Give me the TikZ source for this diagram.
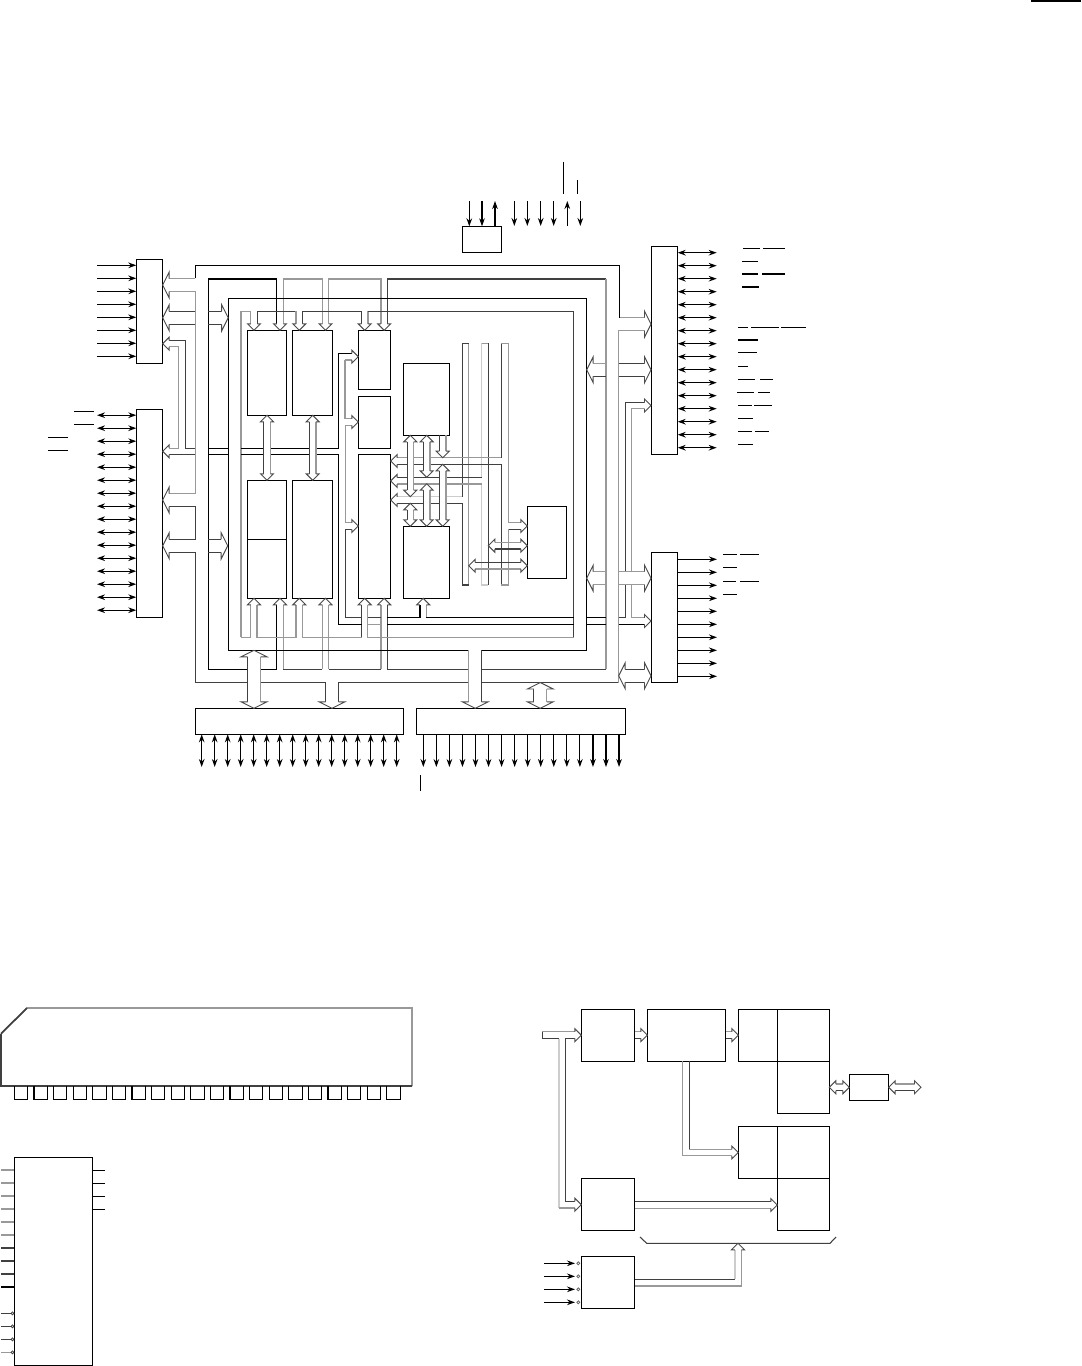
\documentclass[tikz,border=0pt]{standalone}
\usepackage{xcolor}
\usepackage{tikz}
\usetikzlibrary{arrows.meta,fit}

\begin{document}
\begin{tikzpicture}[
    x=0.75pt,y=-0.75pt,
    box/.style={draw,inner sep=0pt,outer sep=0pt,line width=1pt},
    pin/.style={draw,line width=0.85pt},
    wire/.style={draw,black,line width=0.8pt},
    dk/.style={draw,black!75,line width=0.8pt},
    gr/.style={draw,black!40,line width=0.9pt},
    lt/.style={draw,black!20,line width=0.9pt},
    head/.style={draw=black!70,fill=white,line width=0.7pt},
    >={Stealth[length=6pt,width=4.2pt]},
]
    \useasboundingbox (0,0) rectangle (1081,1366);

    % boxes
    \foreach \n/\xa/\ya/\xb/\yb in {
        ltbox/136.3/259.3/162.7/363.3, lwbox/136.3/409.3/162.7/617.3,
        topbox/462.3/226.3/501.7/252.3, rtbox/651.3/246.3/677.7/454.3, rwbox/651.3/552.3/677.7/682.3,
        blbox/195.3/708.3/403.3/734.3, brbox/416.3/708.3/625.7/734.3,
        aa/247.3/330.3/286.3/415.3, ab/292.3/330.3/332.3/415.3,
        ba/247.3/480.3/286.3/539.3, bc/247.3/539.3/286.3/598.3, bb/292.3/480.3/332.3/598.3,
        ca/358.3/330.3/390.3/389.3, cb/358.3/396.3/390.3/448.3, cc/358.3/454.3/390.3/598.3,
        da/403.3/363.3/449.7/435.3, db/403.3/526.3/449.7/598.3, ee/527.3/506.3/566.7/578.3,
        chip/14.3/1157.3/92.3/1365.3,
        fa/581.3/1009.3/634.7/1061.3, fb/647.3/1009.3/725.7/1061.3, fc/738.3/1009.3/777.3/1061.3,
        fd/777.3/1009.3/829.3/1061.3, fe/777.3/1061.3/829.3/1113.3, ff/849.3/1074.3/888.7/1100.3,
        fg/738.3/1126.3/777.3/1178.3, fh/777.3/1126.3/829.3/1178.3, fi/777.3/1178.3/829.3/1230.3,
        fj/581.3/1178.3/634.7/1230.3, fk/581.3/1256.3/634.7/1308.3%
    }{
        \node[box,fit={(\xa,\ya) (\xb,\yb)}] (\n) {};
    }

    % pins
    \foreach \i in {0,...,7}{
        \coordinate (lt\i) at (97,265.3+13*\i);
        \draw[pin,->] (lt\i) -- (ltbox.west |- lt\i);
    }
    \foreach \i in {0,...,15}{
        \coordinate (lw\i) at (97,415.2+13*\i);
        \draw[pin,<->] (lw\i) -- (lwbox.west |- lw\i);
        \coordinate (rt\i) at (716.7,252.7+13*\i);
        \draw[pin,<->] (rtbox.east |- rt\i) -- (rt\i);
        \coordinate (bl\i) at (201.7+13*\i,767);
        \draw[pin,<->] (blbox.south -| bl\i) -- (bl\i);
        \coordinate (br\i) at (423.3+13.05*\i,767);
        \draw[pin,->] (brbox.south -| br\i) -- (br\i);
    }
    \foreach \i in {0,...,9}{
        \coordinate (rw\i) at (717,559.3+13*\i);
        \draw[pin,->] (rwbox.east |- rw\i) -- (rw\i);
    }
    \foreach \n/\x in {a/469.3,b/482}{
        \coordinate (tp\n) at (\x,201);
        \draw[pin,->] (tp\n) -- (topbox.north -| tp\n);
    }
    \coordinate (tpc) at (495,201);
    \draw[pin,<-] (tpc) -- (topbox.north -| tpc);
    \foreach \x in {514.3,527.3,540.7,553.7,580.3}
        \draw[pin,->] (\x,201) -- (\x,226);
    \draw[pin,<-] (567.3,201) -- (567.3,226);

    % overbars
    \foreach \xa/\xb/\y in {
        743/760/248.3, 763/785/248.3, 742/758/261.3, 742/758/274, 762/785/274, 742/759/287,
        738/748/327.3, 751/779/327.3, 781/805.7/327.3, 738/758/340, 738/757/352.7, 738/748/366.3,
        738/755/379.3, 760/773/379.3, 737/754/392.3, 758/770/392.3, 738/752/405.3, 754/772/405.3,
        738/753/418.3, 738/752/431.3, 755/769/431.3, 738/753/444.3,
        723/737/554.3, 740/759/554.3, 723/737/567.3, 723/736/581.3, 740/759/581.3, 723/737/594.3,
        74/94/411.3, 74/94/424.3, 48/68/437.3, 48/68/450.3%
    }
        \draw[pin] (\xa,\y) -- (\xb,\y);
    \draw[pin] (563.3,162) -- (563.3,193.7);
    \draw[pin] (577.3,180) -- (577.3,193.7);
    \draw[pin] (420.8,775.3) -- (420.8,790.7);
    \draw[line width=1.6pt] (1031,1) -- (1081,1);

    % outer bus
    \draw[wire] (195.3,278.3) -- (195.3,265.3) -- (619.5,265.3) -- (619.5,317.7);
    \draw[gr] (169,278.3) -- (195.3,278.3);
    \draw[gr] (169,291.7) -- (195.3,291.7) -- (195.3,493.3) -- (169,493.3);
    \draw[dk] (169,506.7) -- (195.3,506.7) -- (195.3,539.3) -- (169,539.3);
    \draw[dk] (169,552.3) -- (195.3,552.3) -- (195.3,682.7) -- (247.3,682.7);
    \draw[dk] (260.3,682.7) -- (325.7,682.7) -- (325.7,702);
    \draw[dk] (338.3,702) -- (338.3,682.7) -- (468.7,682.7);
    \draw[dk] (481.7,682.5) -- (618.7,682.5);
    \draw[gr] (645,317.7) -- (619.5,317.7);
    \draw[gr] (645,330.7) -- (618.7,330.7) -- (618.7,682.5);

    % second bus
    \draw[wire] (276.7,323.8) -- (276.7,279) -- (208.3,279) -- (208.3,669.3) -- (276.7,669.3) -- (276.7,604.8);
    \draw[gr] (283.3,323.8) -- (283.3,279) -- (322.3,279) -- (322.3,323.8);
    \draw[gr] (328.7,323.8) -- (328.7,279) -- (381,279) -- (381,323.8);
    \draw[dk] (387.3,323.8) -- (387.3,279) -- (606,279);
    \draw[gr] (606,279) -- (606,669.3);
    \draw[dk] (606,669.3) -- (481.7,669.3);
    \draw[dk] (468.7,669.3) -- (387.3,669.3) -- (387.3,604.8);
    \draw[gr] (283.3,604.8) -- (283.3,669.3);
    \draw[dk] (283.3,669.3) -- (322.3,669.3);
    \draw[gr] (322.3,669.3) -- (322.3,604.8);
    \draw[gr] (328.7,604.8) -- (328.7,669.3);
    \draw[dk] (328.7,669.3) -- (381,669.3);
    \draw[gr] (381,669.3) -- (381,604.8);

    % frames
    \draw[wire] (468.7,650.3) -- (228.7,650.3) -- (228.7,298.3) -- (586.7,298.3) -- (586.7,650.3) -- (481.7,650.3);
    \draw[gr] (241,637.3) -- (241,311.3) -- (250.7,311.3) -- (250.7,323.8);
    \draw[dk] (257.3,323.8) -- (257.3,311.3) -- (296,311.3);
    \draw[gr] (296,311.3) -- (296,323.8);
    \draw[dk] (302.6,323.8) -- (302.6,311.3) -- (361.3,311.3) -- (361.3,323.8);
    \draw[gr] (368,323.8) -- (368,311.3);
    \draw[dk] (368,311.3) -- (573.7,311.3) -- (573.7,637.3);
    \draw[gr] (241,637.3) -- (250.7,637.3) -- (250.7,604.8);
    \draw[gr] (257,604.8) -- (257,637.3) -- (296,637.3) -- (296,604.8);
    \draw[gr] (302.6,604.8) -- (302.6,637.3) -- (361.7,637.3);
    \draw[dk] (361.7,637.3) -- (361.7,604.8);
    \draw[gr] (367.7,604.8) -- (367.7,637.3) -- (573.7,637.3);

    % middle bus
    \draw[gr] (169,346.7) -- (178.7,346.7) -- (178.7,448.3) -- (169,448.3);
    \draw[dk] (169,340.7) -- (185.3,340.7) -- (185.3,448.3) -- (195.3,448.3);
    \draw[dk] (169,454.3) -- (195.3,454.3);
    \draw[wire] (208.3,448.3) -- (228.7,448.3);
    \draw[wire] (208.3,454.3) -- (228.7,454.3);
    \draw[wire] (241,448.3) -- (338.3,448.3) -- (338.3,353.3) -- (351.8,353.3);
    \draw[wire] (241,454.3) -- (338.3,454.3) -- (338.3,624.3) -- (361.7,624.3);
    \draw[gr] (345,360) -- (351.8,360);
    \draw[gr] (351.8,418.3) -- (345,418.3) -- (345,360);
    \draw[gr] (351.8,425.7) -- (345.7,425.7) -- (345.7,522.7) -- (351.8,522.7);
    \draw[dk] (351.8,529.3) -- (345.7,529.3) -- (345.7,617.7) -- (361.7,617.7);
    \draw[dk] (367.7,617.7) -- (381,617.7);
    \draw[gr] (367.7,624.3) -- (381,624.3);
    \draw[wire] (387.3,617.7) -- (420,617.7) -- (420,604.8);
    \draw[gr] (426.3,604.8) -- (426.3,617.7);
    \draw[wire] (426.3,617.7) -- (573.7,617.7);
    \draw[wire] (387.3,624.3) -- (573.7,624.3);
    \draw[wire] (586.7,617.7) -- (606,617.7);
    \draw[wire] (586.7,624.3) -- (606,624.3);
    \draw[dk] (645,402.3) -- (625.7,402.3) -- (625.7,571.7);
    \draw[dk] (618.7,617.7) -- (625.7,617.7) -- (625.7,584.7);
    \draw[gr] (645,408.7) -- (631.7,408.7) -- (631.7,571.7);
    \draw[gr] (631.7,584.7) -- (631.7,617.7) -- (645,617.7);
    \draw[wire] (618.7,624.3) -- (645,624.3);

    % crossing arrows
    \draw[gr] (593,363.3) -- (606,363.3);
    \draw[dk] (593,376.3) -- (606,376.3);
    \draw[dk] (618.7,363.3) -- (645,363.3);
    \draw[dk] (618.7,376.3) -- (645,376.3);
    \draw[gr] (593,571.7) -- (606,571.7);
    \draw[gr] (593,584.7) -- (606,584.7);
    \draw[gr] (618.7,571.7) -- (645,571.7);
    \draw[gr] (618.7,584.7) -- (645,584.7);
    \draw[dk] (625,669.3) -- (645,669.3);
    \draw[dk] (625,682.3) -- (645,682.3);
    \draw[dk] (169,311.3) -- (195.3,311.3);
    \draw[dk] (169,324.3) -- (195.3,324.3);
    \draw[dk] (208.3,311.3) -- (221.5,311.3);
    \draw[dk] (208.3,324.3) -- (221.5,324.3);
    \draw[dk] (208.3,539.3) -- (221.5,539.3);
    \draw[dk] (208.3,552.3) -- (221.5,552.3);
    \draw[gr] (468.7,650.3) -- (468.7,702);
    \draw[dk] (481.7,650.3) -- (481.7,702);

    % bus columns
    \draw[gr] (468.7,585) -- (468.7,343.3);
    \draw[dk] (462.3,503.3) -- (462.3,585) -- (468.7,585);
    \draw[dk] (462.3,496.7) -- (462.3,343.3) -- (468.7,343.3);
    \draw[lt] (481.7,484) -- (481.7,585) -- (488.3,585);
    \draw[lt] (481.7,477.7) -- (481.7,343.3);
    \draw[gr] (481.7,343.3) -- (488.3,343.3);
    \draw[dk] (488.3,343.3) -- (488.3,585);
    \draw[dk] (501.3,464.3) -- (501.3,585);
    \draw[dk] (501.3,457.7) -- (501.3,343.3);
    \draw[gr] (501.3,343.3) -- (508.3,343.3) -- (508.3,522.7) -- (520.8,522.7);
    \draw[dk] (520.8,529.3) -- (508.3,529.3);
    \draw[gr] (508.3,529.3) -- (508.3,585) -- (501.3,585);
    \draw[gr] (397.2,457.7) -- (501.3,457.7);
    \draw[dk] (397.2,464.3) -- (501.3,464.3);
    \draw[dk] (397.2,477.7) -- (481.7,477.7);
    \draw[gr] (397.2,484) -- (481.7,484);
    \draw[lt] (397.2,496.7) -- (462.3,496.7);
    \draw[dk] (397.2,503.3) -- (462.3,503.3);
    \draw[gr] (494.8,542.4) -- (520.8,542.4);
    \draw[dk] (494.8,549) -- (520.8,549);
    \draw[dk] (475.2,562.4) -- (520.8,562.4);
    \draw[gr] (475.2,569) -- (520.8,569);
    \draw[dk] (439.4,435.3) -- (439.4,451.2);
    \draw[gr] (446,435.3) -- (446,451.2);

    % lower block diagram buses
    \draw[dk] (575,1038.7) -- (565.3,1038.7) -- (565.3,1201.3) -- (575,1201.3);
    \draw[lt] (559,1038.7) -- (559,1208);
    \draw[gr] (559,1208) -- (575,1208);
    \draw[dk] (559,1038.7) -- (542.3,1038.7) -- (542.3,1031.7);
    \draw[gr] (542.3,1031.7) -- (575,1031.7);
    \draw[gr] (634.7,1031.8) -- (640.8,1031.8);
    \draw[dk] (634.7,1038.4) -- (640.8,1038.4);
    \draw[gr] (725.7,1031.8) -- (731.8,1031.8);
    \draw[dk] (725.7,1038.4) -- (731.8,1038.4);
    \draw[gr] (682.7,1061.3) -- (682.7,1155.7) -- (731.8,1155.7);
    \draw[dk] (689.3,1061.3) -- (689.3,1149.3);
    \draw[gr] (689.3,1149.3) -- (731.8,1149.3);
    \draw[dk] (634.7,1201.7) -- (770.8,1201.7);
    \draw[gr] (634.7,1208.3) -- (770.8,1208.3);
    \draw[gr] (835.8,1084) -- (842.8,1084);
    \draw[dk] (835.8,1090.7) -- (842.8,1090.7);
    \draw[gr] (895.2,1084) -- (914.5,1084);
    \draw[dk] (895.2,1090.7) -- (914.5,1090.7);
    \draw[dk] (640,1237) -- (646.7,1243.3) -- (830,1243.3) -- (836,1237);
    \draw[dk] (634.7,1279.3) -- (735,1279.3);
    \draw[lt] (735,1279.3) -- (735,1249.8);
    \draw[gr] (634.7,1286) -- (741.3,1286) -- (741.3,1249.8);

    % arrow heads
    \foreach \x/\y/\w in {
        651/324.2/13, 651/369.8/13, 651/405.5/6.5, 651/578.2/13, 651/621/6.5, 651/675.8/13,
        228.2/317.8/13, 227.7/545.8/13, 358.3/356.7/6.5, 358.3/422/6.5, 358.3/526/6.5,
        527.3/526/6.5, 527.3/545.7/6.5, 527.3/565.7/6.5,
        581.3/1035.2/6.5, 581.3/1204.7/6.5, 647.3/1035.1/6.5, 738.3/1035.1/6.5,
        738.3/1152.5/6.5, 777.3/1205/6.5, 849.3/1087.3/6.5, 921/1087.3/6.5%
    }
        \filldraw[head] (\x-6.5,\y-\w/2) -- (\x-6.5,\y-\w) -- (\x,\y) -- (\x-6.5,\y+\w) -- (\x-6.5,\y+\w/2);
    \foreach \x/\y/\w in {
        162.7/285/13, 162.7/317.8/13, 162.7/343.7/6.5, 162.7/451.3/6.5, 162.7/500/13, 162.7/545.8/13,
        586.7/369.8/13, 586.7/578.2/13, 618.7/675.8/13,
        390.7/461/6.5, 390.7/480.9/6.5, 390.7/500/6.5, 468.7/565.7/6.5, 488.3/545.7/6.5,
        829.3/1087.3/6.5, 888.7/1087.3/6.5%
    }
        \filldraw[head] (\x+6.5,\y-\w/2) -- (\x+6.5,\y-\w) -- (\x,\y) -- (\x+6.5,\y+\w) -- (\x+6.5,\y+\w/2);
    \foreach \x/\y/\w in {
        254/330.3/6.5, 280/330.3/6.5, 299.3/330.3/6.5, 325.5/330.3/6.5, 364.7/330.3/6.5, 384.2/330.3/6.5,
        332/708.3/13, 475.2/708.3/13, 442.7/457.7/6.5%
    }
        \filldraw[head] (\x-\w/2,\y-6.5) -- (\x-\w,\y-6.5) -- (\x,\y) -- (\x+\w,\y-6.5) -- (\x+\w/2,\y-6.5);
    \foreach \x/\y/\w in {
        254/598.3/6.5, 280/598.3/6.5, 299.3/598.3/6.5, 325.5/598.3/6.5, 364.7/598.3/6.5, 384.2/598.3/6.5,
        423.2/598.3/6.5, 738/1243.3/6.5%
    }
        \filldraw[head] (\x-\w/2,\y+6.5) -- (\x-\w,\y+6.5) -- (\x,\y) -- (\x+\w,\y+6.5) -- (\x+\w/2,\y+6.5);

    % double arrows over the buses
    \foreach \x/\a/\b/\w in {
        267/415.3/480.3/6.5, 312.7/415.3/480.3/6.5, 410.3/435.3/496.7/6.5, 426.7/435.3/477.3/6.5,
        442.7/464.3/526.3/6.5, 426.7/483.7/526.3/6.5, 410.3/503.3/526.3/6.5,
        254/650.3/708.3/13, 540.3/682.5/708.3/13%
    }{
        \fill[white] (\x-\w/2,\a+6.5) rectangle (\x+\w/2,\b-6.5);
        \draw[dk] (\x-\w/2,\a+6.5) -- (\x-\w/2,\b-6.5);
        \draw[gr] (\x+\w/2,\a+6.5) -- (\x+\w/2,\b-6.5);
        \filldraw[head] (\x-\w/2,\a+6.5) -- (\x-\w,\a+6.5) -- (\x,\a) -- (\x+\w,\a+6.5) -- (\x+\w/2,\a+6.5);
        \filldraw[head] (\x-\w/2,\b-6.5) -- (\x-\w,\b-6.5) -- (\x,\b) -- (\x+\w,\b-6.5) -- (\x+\w/2,\b-6.5);
    }

    % package outline
    \draw[gr,line width=1.2pt] (1,1033.7) -- (27,1008) -- (412,1008) -- (412,1086);
    \draw[dk,line width=1.2pt] (412,1086) -- (1,1086) -- (1,1033.7);
    \draw[dk,line width=1.2pt] (1,1033.7) -- (27,1008);
    \foreach \i in {0,...,19}
        \draw[pin] (14.4+19.6*\i,1086) -- (14.4+19.6*\i,1099.3) -- (27.7+19.6*\i,1099.3) -- (27.7+19.6*\i,1086);

    % chip pins
    \foreach \i/\c in {0/gr,1/gr,2/gr,3/gr,4/gr,5/gr,6/dk,7/dk,8/dk,9/wire}{
        \coordinate (ca\i) at (1,1170+13*\i);
        \draw[\c] (ca\i) -- (chip.west |- ca\i);
    }
    \foreach \i/\c in {0/dk,1/dk,2/dk,3/gr}{
        \coordinate (cb\i) at (1,1313.3+13*\i);
        \draw[\c] (cb\i) -- (11,1313.3+13*\i);
        \draw[dk,line width=0.6pt] (12.5,1313.3+13*\i) circle [radius=1.1pt];
    }
    \foreach \i in {0,...,3}{
        \coordinate (cc\i) at (105,1170.3+13*\i);
        \draw[wire] (chip.east |- cc\i) -- (cc\i);
    }
    \foreach \i in {0,...,3}{
        \coordinate (fp\i) at (544,1263.3+13*\i);
        \draw[pin,->] (fp\i) -- (575,1263.3+13*\i);
        \draw[black!60,line width=0.6pt] (578.3,1263.3+13*\i) circle [radius=1.1pt];
    }
\end{tikzpicture}
\end{document}
